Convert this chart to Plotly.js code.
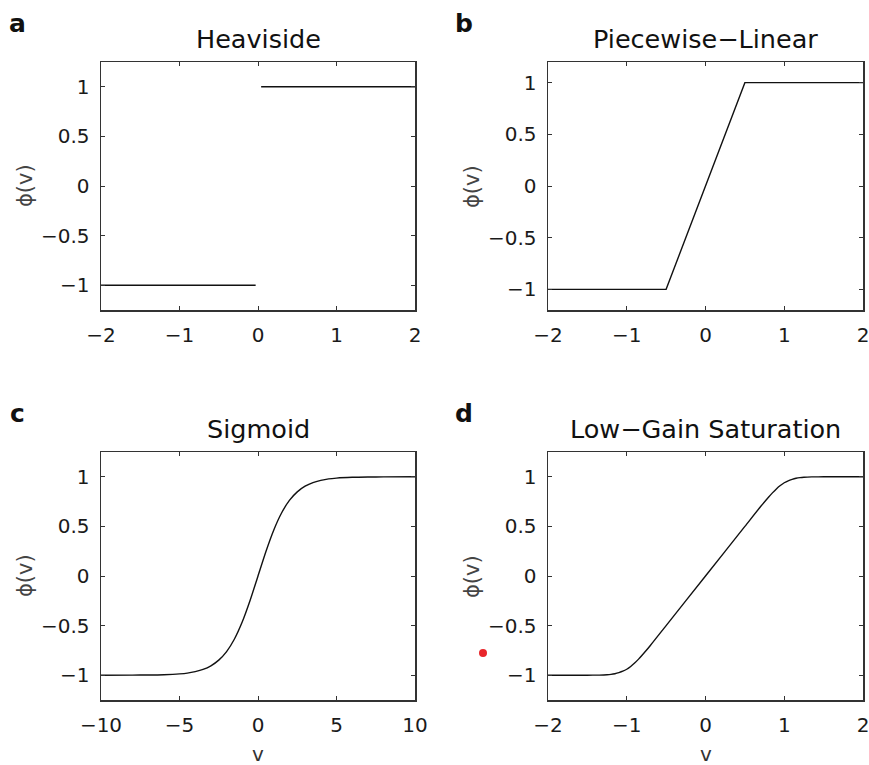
<!DOCTYPE html>
<html>
<head>
<meta charset="utf-8">
<script src="https://cdn.plot.ly/plotly-3.0.1.min.js"></script>
<style>html,body{margin:0;padding:0;background:#fff;}#chart{width:869px;height:765px;}</style>
</head>
<body>
<div id="chart"></div>
<script>
// ---- data ----
const panelLetters = ["a", "b", "c", "d"];
const panelTitles = ["Heaviside", "Piecewise\u2212Linear", "Sigmoid", "Low\u2212Gain Saturation"];

// a: Heaviside (two flat segments, with a gap at 0)
const heavisideV   = [-2, -0.03, null, 0.04, 2];
const heavisidePhi = [-1, -1, null, 1, 1];

// b: Piecewise-linear
const pwlV   = [-2, -0.5, 0.5, 2];
const pwlPhi = [-1, -1, 1, 1];

// c: Sigmoid
const sigV   = [-10, -8, -7, -6, -5, -4.5, -4, -3.5, -3, -2.5, -2, -1.5, -1, -0.5, 0, 0.5, 1, 1.5, 2, 2.5, 3, 3.5, 4, 4.5, 5, 6, 7, 8, 10];
const sigPhi = [-1, -0.999, -0.998, -0.995, -0.987, -0.979, -0.964, -0.942, -0.905, -0.848, -0.762, -0.635, -0.462, -0.245, 0, 0.245, 0.462, 0.635, 0.762, 0.848, 0.905, 0.942, 0.964, 0.979, 0.987, 0.995, 0.998, 0.999, 1];

// d: Low-gain saturation
const lgsV   = [-2, -1.5, -1.35, -1.25, -1.2, -1.15, -1.1, -1.05, -1.0, -0.95, -0.9, -0.85, -0.8, -0.7, -0.5, 0, 0.5, 0.7, 0.8, 0.85, 0.9, 0.95, 1.0, 1.05, 1.1, 1.15, 1.2, 1.25, 1.35, 1.5, 2];
const lgsPhi = [-1, -1, -0.999, -0.996, -0.992, -0.985, -0.974, -0.96, -0.94, -0.912, -0.878, -0.838, -0.794, -0.7, -0.5, 0, 0.5, 0.7, 0.794, 0.838, 0.878, 0.912, 0.94, 0.96, 0.974, 0.985, 0.992, 0.996, 0.999, 1, 1];

const xRanges = [[-2, 2], [-2, 2], [-10, 10], [-2, 2]];
const yRanges = [[-1.25, 1.25], [-1.2, 1.2], [-1.25, 1.25], [-1.25, 1.25]];
const xTicks = [[-2, -1, 0, 1, 2], [-2, -1, 0, 1, 2], [-10, -5, 0, 5, 10], [-2, -1, 0, 1, 2]];
const yTicks = [-1, -0.5, 0, 0.5, 1];
const xLabels = ["", "", "v", "v"];
const yLabel = "\u03d5(v)";
const lineShapes = ["linear", "linear", "spline", "spline"];

// ---- layout geometry (pixels) ----
const W = 869, H = 765;
const boxes = [
  {l: 101, r: 415, t: 62, b: 310},
  {l: 548, r: 863, t: 62, b: 310},
  {l: 101, r: 415, t: 452, b: 700},
  {l: 548, r: 863, t: 452, b: 700}
];
const px = x => x / W;
const py = y => 1 - y / H;

const series = [[heavisideV, heavisidePhi], [pwlV, pwlPhi], [sigV, sigPhi], [lgsV, lgsPhi]];
const FONT = "DejaVu Sans, Liberation Sans, Arial, sans-serif";

const traces = series.map((s, i) => ({
  x: s[0], y: s[1], type: "scatter", mode: "lines",
  xaxis: "x" + (i + 1), yaxis: "y" + (i + 1),
  line: {color: "#111", width: 1.4, shape: lineShapes[i], smoothing: 0.6},
  connectgaps: false, hoverinfo: "skip", showlegend: false
}));

const layout = {
  width: W, height: H,
  margin: {l: 0, r: 0, t: 0, b: 0},
  paper_bgcolor: "#fff", plot_bgcolor: "#fff",
  showlegend: false,
  font: {family: FONT, color: "#222", size: 20},
  annotations: [],
  shapes: []
};

boxes.forEach((b, i) => {
  const n = i + 1;
  const axCommon = {
    showline: true, linecolor: "#333", linewidth: 1.5, mirror: "ticks",
    ticks: "inside", ticklen: 4, tickwidth: 1, tickcolor: "#333",
    showgrid: false, zeroline: false, fixedrange: true,
    ticklabeloverflow: "allow",
    tickfont: {family: FONT, size: 20, color: "#1a1a1a"}
  };
  layout["xaxis" + n] = Object.assign({}, axCommon, {
    domain: [px(b.l), px(b.r)], range: xRanges[i],
    tickmode: "array", tickvals: xTicks[i],
    anchor: "y" + n, ticklabelstandoff: 6
  });
  layout["yaxis" + n] = Object.assign({}, axCommon, {
    domain: [py(b.b), py(b.t)], range: yRanges[i],
    tickmode: "array", tickvals: yTicks,
    anchor: "x" + n, ticklabelstandoff: 6
  });
  const cx = (b.l + b.r) / 2;
  // panel letter
  layout.annotations.push({
    text: "<b>" + panelLetters[i] + "</b>", xref: "paper", yref: "paper",
    x: px(b.l - 84), y: py(b.t - 39), xanchor: "center", yanchor: "middle",
    showarrow: false, font: {family: FONT, size: 25, color: "#111"}
  });
  // title
  layout.annotations.push({
    text: panelTitles[i], xref: "paper", yref: "paper",
    x: px(cx), y: py(b.t - 23), xanchor: "center", yanchor: "middle",
    showarrow: false, font: {family: FONT, size: 25.5, color: "#111"}
  });
  // y label
  layout.annotations.push({
    text: yLabel, xref: "paper", yref: "paper",
    x: px(b.l - 76), y: py((b.t + b.b) / 2), xanchor: "center", yanchor: "middle",
    textangle: -90, showarrow: false, font: {family: FONT, size: 21, color: "#444"}
  });
  if (xLabels[i]) {
    layout.annotations.push({
      text: xLabels[i], xref: "paper", yref: "paper",
      x: px(cx), y: py(b.b + 54), xanchor: "center", yanchor: "middle",
      showarrow: false, font: {family: FONT, size: 20, color: "#333"}
    });
  }
});

// small red dot present in the reference image
layout.shapes.push({
  type: "circle", xref: "paper", yref: "paper",
  x0: px(479), x1: px(487), y0: py(657), y1: py(649),
  fillcolor: "#e8262b", line: {width: 0}
});

Plotly.newPlot("chart", traces, layout, {staticPlot: true, displayModeBar: false});
</script>
</body>
</html>
